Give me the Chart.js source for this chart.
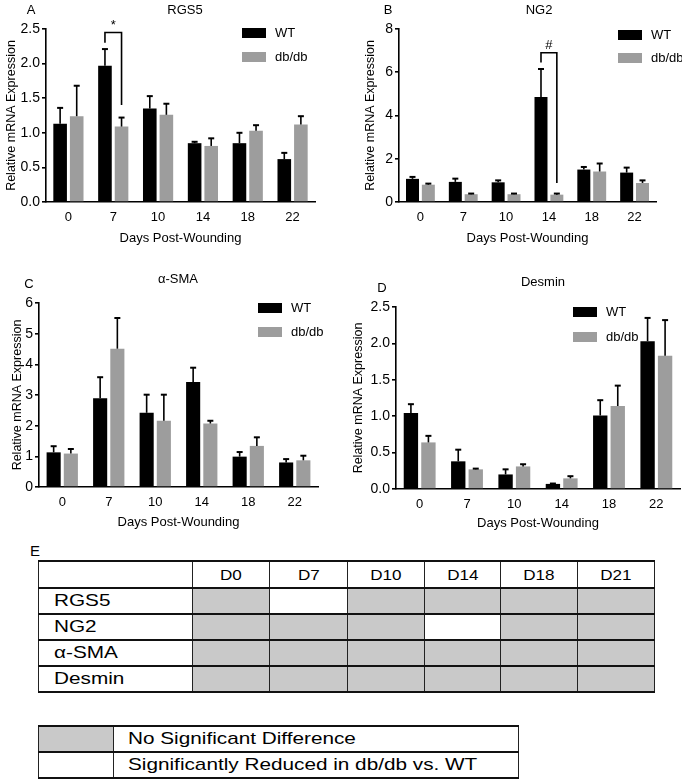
<!DOCTYPE html>
<html>
<head>
<meta charset="utf-8">
<script src="https://cdn.jsdelivr.net/npm/chart.js@4.4.1/dist/chart.umd.min.js"></script>
<style>
  body { margin: 0; background: #fff; font-family: 'Liberation Sans', Arial, sans-serif; color: #000; }
  #page { position: relative; width: 682px; height: 779px; overflow: hidden; }
  canvas { position: absolute; }
  .lbl { position: absolute; font-size: 13px; transform: translate(-50%, -50%); white-space: nowrap; }
  table { position: absolute; border-collapse: collapse; table-layout: fixed; }
  td { padding: 0; border-left: 1px solid #222; border-right: 1px solid #222; border-top: 2px solid #111; border-bottom: 2px solid #111; }
  .st { display: inline-block; transform: scaleX(1.22); transform-origin: left center; white-space: nowrap; }
  .hd { text-align: center; font-size: 14px; }
  .hd .st { transform-origin: center center; }
  .rl { font-size: 17px; padding-left: 15px; }
  .lg { font-size: 17px; padding-left: 14px; }
</style>
</head>
<body>
<div id="page">
  <canvas id="chartA" width="341" height="250" style="left:0;top:0;width:341px;height:250px"></canvas>
  <canvas id="chartB" width="341" height="250" style="left:341px;top:0;width:341px;height:250px"></canvas>
  <canvas id="chartC" width="341" height="284" style="left:0;top:250px;width:341px;height:284px"></canvas>
  <canvas id="chartD" width="341" height="285" style="left:341px;top:250px;width:341px;height:285px"></canvas>

  <div class="lbl" style="left:31px;top:9px">A</div>
  <div class="lbl" style="left:185px;top:9px">RGS5</div>
  <div class="lbl" style="left:388px;top:9px">B</div>
  <div class="lbl" style="left:539px;top:9px">NG2</div>
  <div class="lbl" style="left:29px;top:283px">C</div>
  <div class="lbl" style="left:178px;top:278px">α-SMA</div>
  <div class="lbl" style="left:382px;top:287px">D</div>
  <div class="lbl" style="left:543px;top:281px">Desmin</div>
  <div class="lbl" style="left:35px;top:550px;font-size:15px">E</div>

  <table id="sigTable" style="left:38px;top:560px;width:616px"></table>
  <table id="keyTable" style="left:38px;top:725px;width:480px"></table>
</div>

<script>
// ================= DATA =================

const days = ["0", "7", "10", "14", "18", "22"];
const seriesNames = ["WT", "db/db"];

const rgs5WT = [1.13, 1.97, 1.35, 0.85, 0.85, 0.62];
const rgs5WTErr = [0.23, 0.24, 0.18, 0.02, 0.15, 0.09];
const rgs5DB = [1.24, 1.09, 1.26, 0.81, 1.03, 1.12];
const rgs5DBErr = [0.44, 0.13, 0.16, 0.11, 0.08, 0.12];
const rgs5Ticks = ["0.0", "0.5", "1.0", "1.5", "2.0", "2.5"];

const ng2WT = [1.07, 0.93, 0.91, 4.85, 1.50, 1.36];
const ng2WTErr = [0.09, 0.15, 0.09, 1.30, 0.12, 0.23];
const ng2DB = [0.80, 0.36, 0.36, 0.34, 1.41, 0.88];
const ng2DBErr = [0.05, 0.03, 0.03, 0.05, 0.37, 0.12];
const ng2Ticks = ["0", "2", "4", "6", "8"];

const smaWT = [1.13, 2.89, 2.42, 3.42, 0.99, 0.80];
const smaWTErr = [0.20, 0.69, 0.59, 0.47, 0.15, 0.11];
const smaDB = [1.09, 4.51, 2.16, 2.07, 1.34, 0.87];
const smaDBErr = [0.15, 1.00, 0.85, 0.09, 0.28, 0.15];
const smaTicks = ["0", "1", "2", "3", "4", "5", "6"];

const desWT = [1.045, 0.38, 0.20, 0.07, 1.01, 2.03];
const desWTErr = [0.12, 0.16, 0.07, 0.005, 0.21, 0.32];
const desDB = [0.64, 0.27, 0.31, 0.146, 1.14, 1.83];
const desDBErr = [0.09, 0.01, 0.03, 0.03, 0.28, 0.49];
const desTicks = ["0.0", "0.5", "1.0", "1.5", "2.0", "2.5"];

// table E
const tableCols = ["D0", "D7", "D10", "D14", "D18", "D21"];
const tableRows = ["RGS5", "NG2", "α-SMA", "Desmin"];
// 1 = significantly reduced in db/db vs WT
const tableSig = [
  [0, 1, 0, 0, 0, 0],
  [0, 0, 0, 1, 0, 0],
  [0, 0, 0, 0, 0, 0],
  [0, 0, 0, 0, 0, 0]
];
const keyLabels = ["No Significant Difference", "Significantly Reduced in db/db vs. WT"];

const WT_COLOR = "#000000";
const DB_COLOR = "#9d9d9d";
const CELL_GRAY = "#c9c9c9";

Chart.defaults.font.family = "'Liberation Sans', Arial, sans-serif";
Chart.defaults.color = "#000";


// ================= PLUGINS =================

const errorBars = {
  id: "errorBars",
  afterDatasetsDraw(chart) {
    const ctx = chart.ctx;
    const yScale = chart.scales.y;
    chart.data.datasets.forEach((ds, di) => {
      const meta = chart.getDatasetMeta(di);
      meta.data.forEach((bar, i) => {
        const top = yScale.getPixelForValue(ds.data[i] + ds.errors[i]);
        ctx.save();
        ctx.strokeStyle = "#000";
        ctx.lineWidth = 1.6;
        ctx.beginPath();
        ctx.moveTo(bar.x, bar.y);
        ctx.lineTo(bar.x, top);
        ctx.stroke();
        ctx.lineWidth = 2;
        ctx.beginPath();
        ctx.moveTo(bar.x - 3, top);
        ctx.lineTo(bar.x + 3, top);
        ctx.stroke();
        ctx.restore();
      });
    });
  }
};

function keyBoxes(x, y1, y2) {
  return {
    id: "keyBoxes",
    afterDraw(chart) {
      const ctx = chart.ctx;
      ctx.save();
      ctx.font = "13px 'Liberation Sans', Arial, sans-serif";
      ctx.textBaseline = "middle";
      [y1, y2].forEach((y, k) => {
        ctx.fillStyle = k === 0 ? WT_COLOR : DB_COLOR;
        ctx.fillRect(x, y, 24, 10);
        ctx.fillStyle = "#000";
        ctx.fillText(seriesNames[k], x + 33, y + 5);
      });
      ctx.restore();
    }
  };
}

function bracket(b) {
  return {
    id: "bracket",
    afterDatasetsDraw(chart) {
      const ctx = chart.ctx;
      const yScale = chart.scales.y;
      const xl = chart.getDatasetMeta(0).data[b.index].x;
      const xr = chart.getDatasetMeta(1).data[b.index].x;
      const yt = yScale.getPixelForValue(b.top);
      ctx.save();
      ctx.strokeStyle = "#000";
      ctx.lineWidth = 1.6;
      ctx.beginPath();
      ctx.moveTo(xl, yScale.getPixelForValue(b.left));
      ctx.lineTo(xl, yt);
      ctx.lineTo(xr, yt);
      ctx.lineTo(xr, yScale.getPixelForValue(b.right));
      ctx.stroke();
      ctx.font = "13px 'Liberation Sans', Arial, sans-serif";
      ctx.textAlign = "center";
      ctx.textBaseline = "bottom";
      ctx.fillStyle = "#000";
      ctx.fillText(b.label, (xl + xr) / 2, yt - 1);
      ctx.restore();
    }
  };
}


// ================= CHART =================

function makeChart(id, cfg) {

  const ctx = document.getElementById(id).getContext("2d");

  return new Chart(ctx, {

    type: "bar",

    data: {
      labels: days,
      datasets: [
        {
          label: seriesNames[0],
          data: cfg.wt,
          errors: cfg.wtErr,
          backgroundColor: WT_COLOR,
          barPercentage: 0.82,
          categoryPercentage: 0.74
        },
        {
          label: seriesNames[1],
          data: cfg.db,
          errors: cfg.dbErr,
          backgroundColor: DB_COLOR,
          barPercentage: 0.82,
          categoryPercentage: 0.74
        }
      ]
    },

    options: {
      responsive: false,
      animation: false,
      layout: {
        padding: { left: cfg.padLeft, right: cfg.padRight, top: cfg.padTop, bottom: 0 }
      },
      plugins: {
        legend: { display: false },
        tooltip: { enabled: false }
      },
      scales: {
        x: {
          offset: true,
          z: 1,
          grid: { display: false, drawTicks: false },
          border: { color: "#000", width: 1.6 },
          ticks: { font: { size: 13 }, padding: 8 },
          title: {
            display: true,
            text: "Days Post-Wounding",
            font: { size: 13 },
            padding: { top: 4, bottom: 4 }
          },
          afterFit: (s) => { s.height = cfg.xHeight; }
        },
        y: {
          min: 0,
          max: cfg.max,
          ticks: {
            stepSize: cfg.step,
            font: { size: 14 },
            padding: 2,
            callback: (v, i) => cfg.ticks[i]
          },
          grid: {
            drawOnChartArea: false,
            color: "#000",
            lineWidth: 1.6,
            tickLength: 4
          },
          border: { color: "#000", width: 1.6 },
          title: {
            display: true,
            text: "Relative mRNA Expression",
            font: { size: 12.5 },
            padding: { top: 4, bottom: 4 }
          },
          afterFit: (s) => { s.width = cfg.yWidth; }
        }
      }
    },

    plugins: cfg.plugins

  });

}

makeChart("chartA", {
  wt: rgs5WT, wtErr: rgs5WTErr, db: rgs5DB, dbErr: rgs5DBErr,
  max: 2.5, step: 0.5, ticks: rgs5Ticks,
  padLeft: 0, yWidth: 46, padRight: 26, padTop: 29, xHeight: 48,
  plugins: [errorBars, keyBoxes(242, 28, 52), bracket({ index: 1, top: 2.45, left: 2.30, right: 1.40, label: "*" })]
});

makeChart("chartB", {
  wt: ng2WT, wtErr: ng2WTErr, db: ng2DB, dbErr: ng2DBErr,
  max: 8, step: 2, ticks: ng2Ticks,
  padLeft: 18, yWidth: 40, padRight: 26, padTop: 29, xHeight: 48,
  plugins: [errorBars, keyBoxes(277, 30, 53), bracket({ index: 3, top: 6.9, left: 6.45, right: 0.88, label: "#" })]
});

makeChart("chartC", {
  wt: smaWT, wtErr: smaWTErr, db: smaDB, dbErr: smaDBErr,
  max: 6, step: 1, ticks: smaTicks,
  padLeft: 6, yWidth: 33, padRight: 23, padTop: 53, xHeight: 47,
  plugins: [errorBars, keyBoxes(258, 53, 77)]
});

makeChart("chartD", {
  wt: desWT, wtErr: desWTErr, db: desDB, dbErr: desDBErr,
  max: 2.5, step: 0.5, ticks: desTicks,
  padLeft: 6, yWidth: 49, padRight: 2, padTop: 57, xHeight: 46,
  plugins: [errorBars, keyBoxes(232, 57, 82)]
});


// ================= TABLE E =================

const sigTable = document.getElementById("sigTable");
const colW = [154, 77, 78, 77, 76, 77, 77];

let html = "<colgroup>" + colW.map(w => `<col style="width:${w}px">`).join("") + "</colgroup>";
html += `<tr style="height:27px"><td></td>` +
  tableCols.map(c => `<td class="hd"><span class="st">${c}</span></td>`).join("") + "</tr>";

tableRows.forEach((r, ri) => {
  html += `<tr style="height:26px"><td class="rl"><span class="st">${r}</span></td>` +
    tableSig[ri].map(s => `<td style="background:${s ? "#fff" : CELL_GRAY}"></td>`).join("") + "</tr>";
});
sigTable.innerHTML = html;

const keyTable = document.getElementById("keyTable");
keyTable.innerHTML =
  `<colgroup><col style="width:75px"><col style="width:405px"></colgroup>` +
  keyLabels.map((k, i) =>
    `<tr style="height:26px"><td style="background:${i === 0 ? CELL_GRAY : "#fff"}"></td>` +
    `<td class="lg"><span class="st">${k}</span></td></tr>`
  ).join("");
</script>
</body>
</html>
